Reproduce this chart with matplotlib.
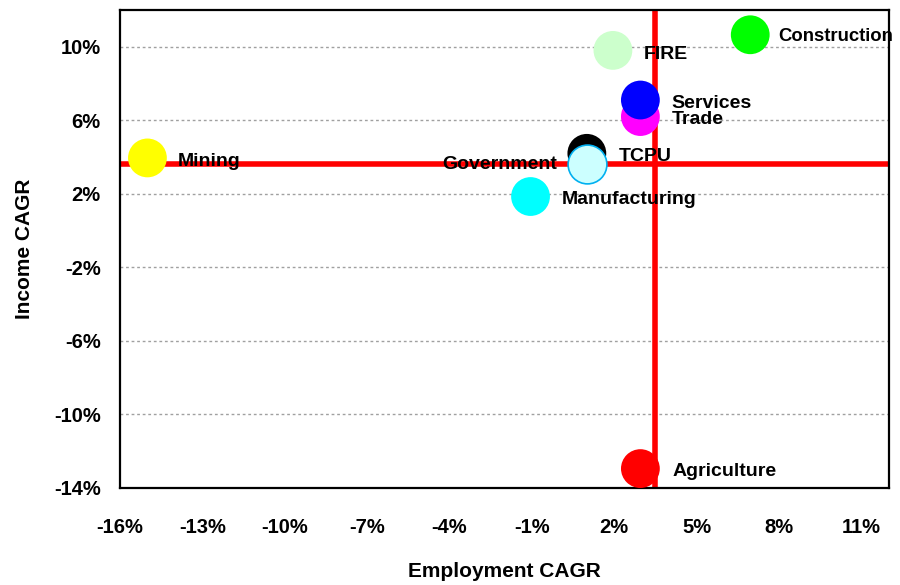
import matplotlib
matplotlib.use('Agg')
from matplotlib import pyplot as plt
from matplotlib import font_manager
from matplotlib.ticker import FixedLocator, FuncFormatter

# 行业数据：就业年均增长率 vs 收入年均增长率 (%)
sectors = ['Mining', 'Construction', 'FIRE', 'Trade', 'Services',
           'TCPU', 'Government', 'Manufacturing', 'Agriculture']
emp_cagr = [-15.0, 6.95, 1.95, 2.95, 2.95, 1.0, 1.0, -1.05, 2.95]
inc_cagr = [3.95, 10.65, 9.8, 6.2, 7.1, 4.2, 3.6, 1.85, -12.95]
colors = ['#FFFF00', '#00FF00', '#CCFFCC', '#FF00FF', '#0000FF',
          '#000000', '#CCFFFF', '#00FFFF', '#FF0000']
edges = ['none', 'none', 'none', 'none', 'none',
         'none', '#00B0F0', 'none', 'none']
avg_emp = 3.5
avg_inc = 3.6

x_ticks = [-16, -13, -10, -7, -4, -1, 2, 5, 8, 11]
y_ticks = [-14, -10, -6, -2, 2, 6, 10]

names = set(f.name for f in font_manager.fontManager.ttflist)
fams = [f for f in ['Liberation Sans Narrow', 'Liberation Sans'] if f in names]
plt.rcParams['font.family'] = fams + ['DejaVu Sans']
plt.rcParams['font.weight'] = 'bold'
narrow = fams[0] == 'Liberation Sans Narrow'
fs = 16 if narrow else 14

fig = plt.figure(figsize=(9, 5.85), dpi=100)
ax = fig.add_axes([0.1333, 0.166, 0.8544, 0.817])

ax.axhline(avg_inc, color='#FF0000', lw=4, zorder=2)
ax.axvline(avg_emp, color='#FF0000', lw=4, zorder=2)

for i in range(len(sectors)):
    ax.scatter(emp_cagr[i], inc_cagr[i], s=780, c=colors[i],
               edgecolors=edges[i], linewidths=1.2, zorder=3)

# 标签位置（像素偏移）
offsets = {'Mining': (30, -4), 'Construction': (28, -2), 'FIRE': (31, -4),
           'Trade': (31, -3), 'Services': (31, -3), 'TCPU': (32, -3),
           'Government': (-30, 0), 'Manufacturing': (31, -3),
           'Agriculture': (32, -3)}
for i, name in enumerate(sectors):
    dx, dy = offsets[name]
    ha = 'right' if dx < 0 else 'left'
    size = fs - 0.7 if name == 'Construction' else fs
    ax.annotate(name, (emp_cagr[i], inc_cagr[i]), xytext=(dx, dy),
                textcoords='offset pixels', ha=ha, va='center',
                fontsize=size, fontweight='bold', zorder=4,
                annotation_clip=False)

ax.set_xlim(-16, 12)
ax.set_ylim(-14, 12)
ax.xaxis.set_major_locator(FixedLocator(x_ticks))
ax.yaxis.set_major_locator(FixedLocator(y_ticks))
pct = FuncFormatter(lambda v, p: '%d%%' % round(v))
ax.xaxis.set_major_formatter(pct)
ax.yaxis.set_major_formatter(pct)
ax.tick_params(axis='both', length=0, labelsize=fs + 0.5)
ax.tick_params(axis='x', pad=22)
ax.tick_params(axis='y', pad=14)
ax.yaxis.grid(True, color='#A0A0A0', ls=(0, (2, 2)), lw=1)
ax.set_axisbelow(True)
for sp in ax.spines.values():
    sp.set_linewidth(1.6)
    sp.set_color('black')

ax.set_xlabel('Employment CAGR', fontsize=fs + 1, fontweight='bold', labelpad=18)
ax.set_ylabel('Income CAGR', fontsize=fs + 1, fontweight='bold', labelpad=14)

fig.savefig('out.png', dpi=100)
